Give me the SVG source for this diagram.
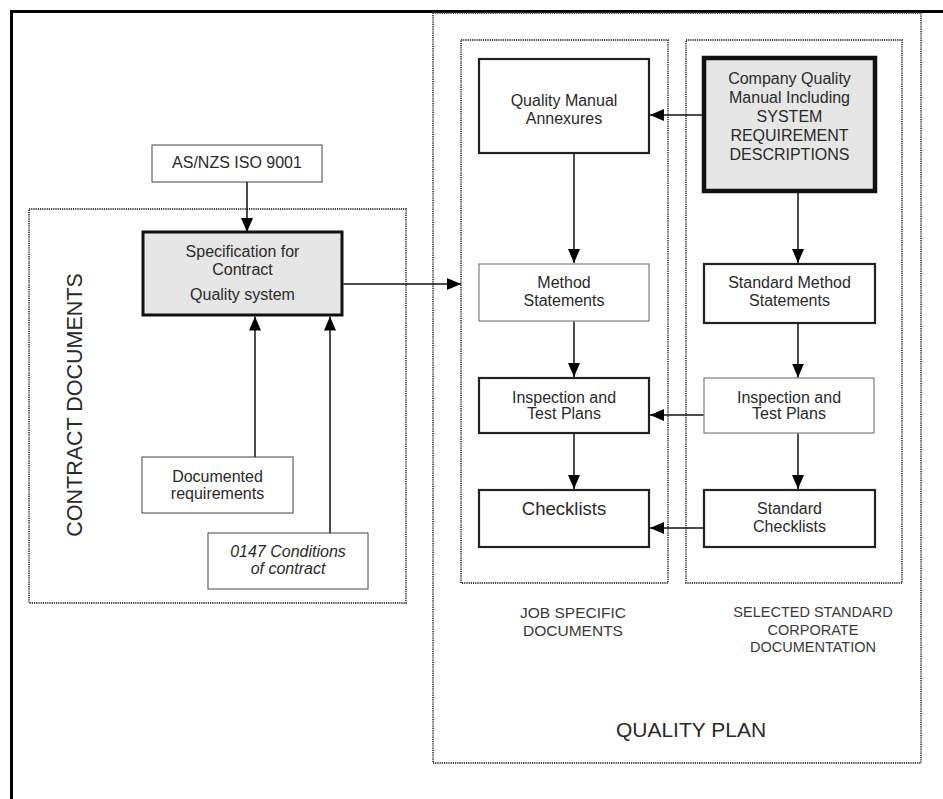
<svg xmlns="http://www.w3.org/2000/svg" width="943" height="799" viewBox="0 0 943 799">
<style>
text{font-family:"Liberation Sans",Arial,sans-serif;fill:#2a2a2a;text-anchor:middle;font-size:16px}
.dot{fill:none;stroke:#444;stroke-width:1.8;stroke-dasharray:1.2 1}
.thin{fill:#fff;stroke:#444;stroke-width:1}
.med{fill:#fff;stroke:#222;stroke-width:2.2}
.grey3{fill:#e6e6e6;stroke:#111;stroke-width:3}
.grey4{fill:#e6e6e6;stroke:#111;stroke-width:4.5}
.con{fill:none;stroke:#111;stroke-width:1.5;marker-end:url(#ah)}
.lbl{fill:#3a3a3a}
</style>
<defs>
<marker id="ah" markerUnits="userSpaceOnUse" markerWidth="14" markerHeight="12" refX="14" refY="6" orient="auto">
<path d="M0,0 L14,6 L0,12 z" fill="#000"/>
</marker>
</defs>
<rect width="943" height="799" fill="#fff"/>
<g id="frame">
<rect x="11.5" y="11.5" width="1000" height="900" fill="none" stroke="#000" stroke-width="3"/>
</g>
<g id="quality-plan">
<rect class="dot" x="433" y="13" width="488" height="750"/>
<text x="691" y="737" style="font-size:21px">QUALITY PLAN</text>
</g>
<g id="job-specific">
<rect class="dot" x="461" y="40" width="207" height="543"/>
<text class="lbl" x="573" y="618" style="font-size:15.5px">JOB SPECIFIC</text>
<text class="lbl" x="573" y="636" style="font-size:15.5px">DOCUMENTS</text>
</g>
<g id="selected-standard">
<rect class="dot" x="686" y="40" width="216" height="543"/>
<text class="lbl" x="813" y="617" style="font-size:14.5px">SELECTED STANDARD</text>
<text class="lbl" x="813" y="634.5" style="font-size:14.5px">CORPORATE</text>
<text class="lbl" x="813" y="652" style="font-size:14.5px">DOCUMENTATION</text>
</g>
<g id="contract-documents">
<rect class="dot" x="29" y="209" width="377" height="394"/>
<text x="82" y="405" transform="rotate(-90 82 405)" style="font-size:21.5px">CONTRACT DOCUMENTS</text>
</g>
<g id="asnzs">
<rect class="thin" x="152" y="145" width="170" height="37"/>
<text x="237" y="168">AS/NZS ISO 9001</text>
</g>
<g id="spec">
<rect class="grey3" x="143" y="232" width="199" height="83"/>
<text x="242.5" y="257">Specification for</text>
<text x="242.5" y="275">Contract</text>
<text x="242.5" y="300">Quality system</text>
</g>
<g id="documented">
<rect class="thin" x="142" y="457" width="151" height="56"/>
<text x="217.5" y="482">Documented</text>
<text x="217.5" y="499">requirements</text>
</g>
<g id="conditions">
<rect class="thin" x="208" y="533" width="160" height="56"/>
<text x="288" y="557" font-style="italic">0147 Conditions</text>
<text x="288" y="574" font-style="italic">of contract</text>
</g>
<g id="annexures">
<rect class="med" x="479" y="59" width="170" height="94"/>
<text x="564" y="106">Quality Manual</text>
<text x="564" y="124">Annexures</text>
</g>
<g id="company-manual">
<rect class="grey4" x="704" y="58" width="171" height="133"/>
<text x="789.5" y="84">Company Quality</text>
<text x="789.5" y="103">Manual Including</text>
<text x="789.5" y="122">SYSTEM</text>
<text x="789.5" y="141">REQUIREMENT</text>
<text x="789.5" y="160">DESCRIPTIONS</text>
</g>
<g id="method">
<rect class="thin" x="479" y="264" width="170" height="57" style="stroke:#666"/>
<text x="564" y="288">Method</text>
<text x="564" y="306">Statements</text>
</g>
<g id="std-method">
<rect class="med" x="704" y="264" width="171" height="59"/>
<text x="789.5" y="288">Standard Method</text>
<text x="789.5" y="306">Statements</text>
</g>
<g id="itp-job">
<rect class="med" x="479" y="378" width="170" height="55"/>
<text x="564" y="403">Inspection and</text>
<text x="564" y="419">Test Plans</text>
</g>
<g id="itp-std">
<rect class="thin" x="704" y="378" width="170" height="55" style="stroke:#666"/>
<text x="789" y="403">Inspection and</text>
<text x="789" y="419">Test Plans</text>
</g>
<g id="checklists">
<rect class="med" x="479" y="490" width="170" height="57"/>
<text x="564" y="515" style="font-size:18.5px">Checklists</text>
</g>
<g id="std-checklists">
<rect class="med" x="704" y="490" width="171" height="57"/>
<text x="789.5" y="514">Standard</text>
<text x="789.5" y="532">Checklists</text>
</g>
<g id="connectors">
<line class="con" x1="247" y1="182" x2="247" y2="232"/>
<line class="con" x1="255" y1="457" x2="255" y2="316.5"/>
<line class="con" x1="330" y1="533" x2="330" y2="316.5"/>
<line class="con" x1="343.5" y1="284" x2="461" y2="284"/>
<line class="con" x1="702" y1="115" x2="650" y2="115"/>
<line class="con" x1="574" y1="154" x2="574" y2="263"/>
<line class="con" x1="798" y1="193" x2="798" y2="263"/>
<line class="con" x1="574" y1="321.5" x2="574" y2="377"/>
<line class="con" x1="798" y1="324" x2="798" y2="377.5"/>
<line class="con" x1="703.5" y1="415" x2="650" y2="415"/>
<line class="con" x1="574" y1="434" x2="574" y2="489"/>
<line class="con" x1="798" y1="433.5" x2="798" y2="489"/>
<line class="con" x1="703" y1="528" x2="650" y2="528"/>
</g>
</svg>
